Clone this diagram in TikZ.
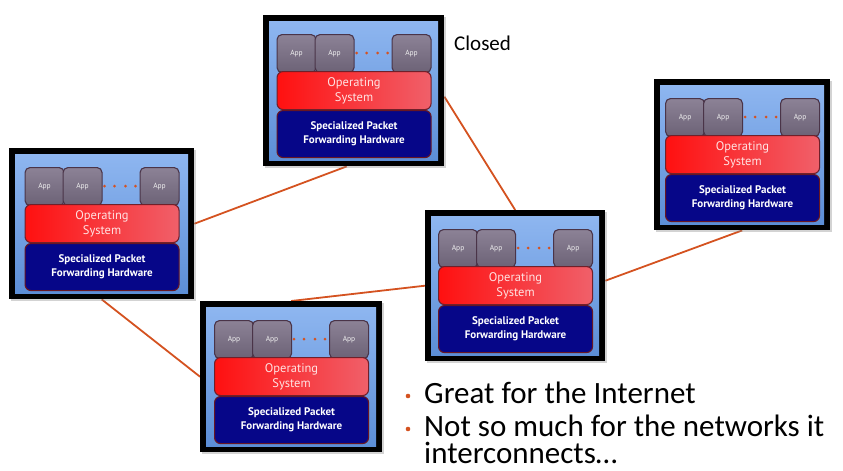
\documentclass[tikz,border=0pt]{standalone}
\usepackage{fontspec}
\setmainfont{Carlito}
\newfontfamily\rfont{PT Sans}
\usetikzlibrary{shadows}

\definecolor{wire}{RGB}{212,82,32}
\definecolor{skytop}{RGB}{142,182,240}
\definecolor{skybot}{RGB}{92,142,214}
\definecolor{apptop}{RGB}{140,130,150}
\definecolor{appbot}{RGB}{108,98,118}
\definecolor{appline}{RGB}{74,52,72}
\definecolor{osleft}{RGB}{255,16,16}
\definecolor{osright}{RGB}{240,96,106}
\definecolor{osline}{RGB}{112,32,42}
\definecolor{ostext}{RGB}{255,226,226}
\definecolor{hwfill}{RGB}{6,6,136}
\definecolor{hwline}{RGB}{104,22,34}

\pgfdeclarelayer{background}
\pgfsetlayers{background,main}

\tikzset{
  frame/.style={fill=black, draw=none, inner sep=0pt,
    drop shadow={shadow xshift=2pt, shadow yshift=-2pt, opacity=0.35}},
  appbox/.style={draw=appline, line width=1.1pt, rounded corners=5pt,
    top color=apptop, bottom color=appbot, inner sep=0pt,
    minimum width=39pt, minimum height=38pt, anchor=north west,
    text=white!88!gray, font=\rfont\fontsize{7.5}{8}\selectfont},
  osbox/.style={draw=osline, line width=1.1pt, rounded corners=6pt,
    left color=osleft, right color=osright, inner sep=0pt,
    minimum width=154pt, minimum height=38pt, anchor=north west,
    text=ostext, align=center, font=\rfont\fontsize{12.5}{15}\selectfont},
  hwbox/.style={draw=hwline, line width=1.1pt, rounded corners=6pt,
    fill=hwfill, inner sep=0pt,
    minimum width=154pt, minimum height=47pt, anchor=north west,
    text=white, align=center, font=\rfont\bfseries\fontsize{11}{14}\selectfont},
  appdot/.style={circle, fill=wire, inner sep=0pt, minimum size=3pt},
  link/.style={draw=wire, line width=1.8pt},
  bullet/.style={circle, fill=wire, inner sep=0pt, minimum size=4.6pt},
  said/.style={anchor=base west, inner sep=0pt, align=left,
    font=\fontsize{31}{27}\selectfont}
}

% #1 name, #2 left, #3 top, #4 frame width
\newcommand\router[4]{%
  \begin{scope}[shift={(#2,#3)}]
    \pgfmathsetmacro\rcx{(#4-154)/2}
    \node[frame, minimum width=#4pt, minimum height=151pt, anchor=north west] (#1) at (0,0) {};
    \fill[top color=skytop, bottom color=skybot] (6,6) rectangle (#4-6,145);
    \node[appbox] (#1-a1) at (\rcx,19) {App};
    \node[appbox] (#1-a2) at (\rcx+38,19) {App};
    \node[appbox] (#1-a3) at (\rcx+115,19) {App};
    \foreach \k/\dx in {1/80,2/90,3/101,4/111}
      \node[appdot] (#1-d\k) at (\rcx+\dx,38) {};
    \node[osbox] (#1-os) at (\rcx,56) {Operating\\System};
    \node[hwbox] (#1-hw) at (\rcx,95) {Specialized Packet\\Forwarding Hardware};
  \end{scope}}

\begin{document}
\begin{tikzpicture}[x=1pt, y=-1pt]
  \useasboundingbox (0,0) rectangle (843,471);

  \router{T}{263}{15}{181}
  \router{L}{9}{148}{185}
  \router{C}{425}{210}{180}
  \router{R}{654}{79}{176}
  \router{B}{200}{301}{182}

  \begin{pgfonlayer}{background}
    \draw[link] (L.east) -- ([xshift=-7pt]T.south);
    \draw[link] ([yshift=-6pt]T.east) -- (C.north);
    \draw[link] (L.south) -- (B.west);
    \draw[link] (B.north) -- (C.west);
    \draw[link] ([yshift=5pt]C.east) -- (R.south);
  \end{pgfonlayer}

  \node[anchor=base west, inner sep=0pt, font=\fontsize{21}{21}\selectfont] (closed) at (454,50) {Closed};

  % bullet list; the second item wraps onto a second line
  \node[bullet] (b1) at (408,396) {};
  \node[said] (p1) at (424,403) {Great for the Internet};
  \node[bullet] (b2) at (408,429) {};
  \node[said] (p2) at (424,463) {Not so much for the networks it\\interconnects…};
\end{tikzpicture}
\end{document}
